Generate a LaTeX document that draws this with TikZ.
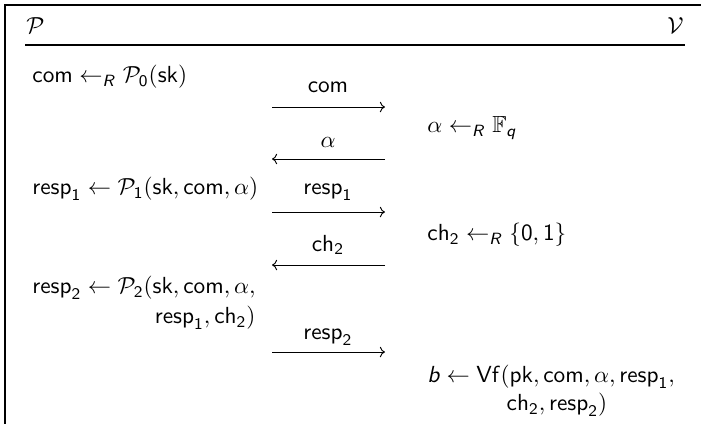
\documentclass[tikz,border=0pt]{standalone}
\usepackage{amssymb}
\usetikzlibrary{arrows.meta}
\DeclareMathAlphabet{\mathsfit}{OT1}{cmss}{m}{sl}
\newcommand{\sv}[1]{\mathsf{#1}}
\newcommand{\sR}{\mathsfit{R}}
\newcommand{\one}{\mathsf{1}}
\newcommand{\two}{\mathsf{2}}
\newcommand{\zer}{\mathsf{0}}
\begin{document}
\begin{tikzpicture}[x=0.43pt,y=-0.43pt,
  txt/.style={inner sep=0pt, font=\fontsize{10}{12}\selectfont},
  frameline/.style={line width=0.7pt},
  sepline/.style={line width=0.45pt},
  msg/.style={line width=0.4pt, -{To[length=2.2pt,width=4.5pt]}}]
\useasboundingbox (0,0) rectangle (701,424);
\draw[frameline] (701,5) -- (5,5) -- (5,424);
\node[txt, anchor=west] (P) at (26,26) {$\mathcal{P}$};
\node[txt, anchor=east] (V) at (684,26) {$\mathcal{V}$};
\coordinate (s1) at (25,45);
\coordinate (s2) at (685,45);
\draw[sepline] (s1) -- (s2);
% left column
\node[txt, anchor=west] (L1) at (32,77) {$\sv{com} \leftarrow_{\sR} \mathcal{P}_{\zer}(\sv{sk})$};
\node[txt, anchor=west] (L2) at (32,189) {$\sv{resp}_{\one} \leftarrow \mathcal{P}_{\one}(\sv{sk}, \sv{com}, \alpha)$};
\node[txt, anchor=west] (L3a) at (32,288) {$\sv{resp}_{\two} \leftarrow \mathcal{P}_{\two}(\sv{sk}, \sv{com}, \alpha,$};
\node[txt, anchor=east] (L3b) at (L3a.east |- 0,318) {$\sv{resp}_{\one}, \sv{ch}_{\two})$};
% right column
\node[txt, anchor=west] (R1) at (427,128) {$\alpha \leftarrow_{\sR} \mathbb{F}_{\mathsfit{q}}$};
\node[txt, anchor=west] (R2) at (427,235) {$\sv{ch}_{\two} \leftarrow_{\sR} \{\zer, \one\}$};
\node[txt, anchor=west] (R3a) at (427,377) {$\mathsfit{b} \leftarrow \sv{Vf}(\sv{pk}, \sv{com}, \alpha, \sv{resp}_{\one},$};
\node[txt] (R3b) at (557,405) {$\sv{ch}_{\two}, \sv{resp}_{\two})$};
% messages
\coordinate (m1a) at (272,107); \coordinate (m1b) at (385,107);
\coordinate (m2a) at (385,159); \coordinate (m2b) at (272,159);
\coordinate (m3a) at (272,212); \coordinate (m3b) at (385,212);
\coordinate (m4a) at (385,265); \coordinate (m4b) at (272,265);
\coordinate (m5a) at (272,352); \coordinate (m5b) at (385,352);
\node[txt] (c1) at (328,87) {$\sv{com}$};
\node[txt] (c2) at (328,142) {$\alpha$};
\node[txt] (c3) at (328,192) {$\sv{resp}_{\one}$};
\node[txt] (c4) at (328,245) {$\sv{ch}_{\two}$};
\node[txt] (c5) at (328,337) {$\sv{resp}_{\two}$};
\draw[msg] (m1a) -- (m1b);
\draw[msg] (m2a) -- (m2b);
\draw[msg] (m3a) -- (m3b);
\draw[msg] (m4a) -- (m4b);
\draw[msg] (m5a) -- (m5b);
\end{tikzpicture}
\end{document}
